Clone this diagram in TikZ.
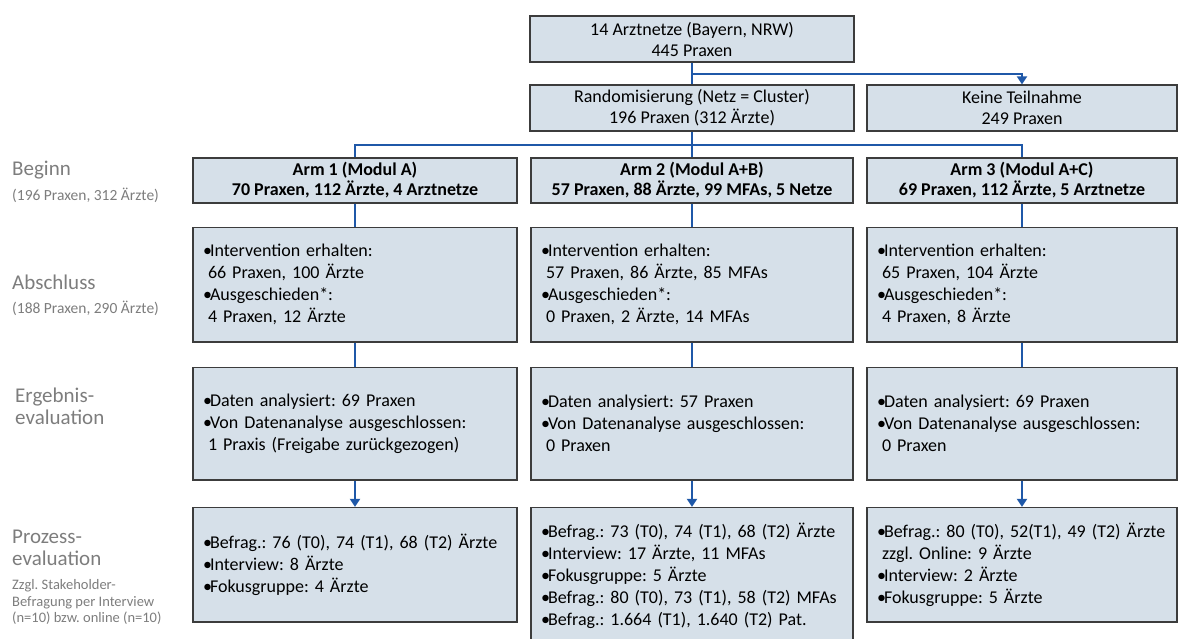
\documentclass[tikz,border=0pt]{standalone}
\usepackage{fontspec}
\setmainfont{Carlito}
\usepackage{xcolor}
\usepackage{tikz}
\usetikzlibrary{arrows.meta}
\definecolor{boxfill}{RGB}{214,224,233}
\definecolor{boxline}{RGB}{60,60,60}
\definecolor{linkblue}{RGB}{31,88,168}
\definecolor{labelgray}{RGB}{125,125,125}
\newcommand{\bl}{\makebox[7pt][l]{•}}
\newcommand{\cn}{\hspace*{5pt}}
\frenchspacing

\begin{document}
\begin{tikzpicture}[x=1pt,y=-1pt,
	box/.style={draw=boxline,fill=boxfill,line width=1.3pt,inner sep=0pt,align=center,font=\fontsize{18}{21}\selectfont},
	listbox/.style={box,align=left,inner xsep=10pt,inner ysep=0pt,font=\fontsize{18}{22}\selectfont},
	link/.style={draw=linkblue,line width=2.6pt},
	lab/.style={anchor=west,inner sep=0pt,align=left,text=labelgray,font=\fontsize{21}{22}\selectfont},
	sublab/.style={anchor=west,inner sep=0pt,align=left,text=labelgray,font=\fontsize{15.5}{16.5}\selectfont},
	>={Triangle[length=8pt,width=10pt]}]
	\useasboundingbox (0,0) rectangle (1178,638);
	\node[box,minimum width=324pt,minimum height=46pt] (top) at (692,39) {14 Arztnetze (Bayern, NRW)\\445 Praxen};
	\node[box,minimum width=324pt,minimum height=46pt] (rand) at (692,108) {Randomisierung (Netz = Cluster)\\196 Praxen (312 Ärzte)};
	\node[box,minimum width=310pt,minimum height=46pt] (keine) at (1022,108) {Keine Teilnahme\\249 Praxen};
	\node[box,minimum width=324pt,minimum height=45pt,font=\bfseries\fontsize{18}{20}\selectfont] (arm1) at (355,180.5) {Arm 1 (Modul A)\\70 Praxen, 112 Ärzte, 4 Arztnetze};
	\node[box,minimum width=322pt,minimum height=45pt,font=\bfseries\fontsize{18}{20}\selectfont] (arm2) at (692,180.5) {Arm 2 (Modul A+B)\\57 Praxen, 88 Ärzte, 99 MFAs, 5 Netze};
	\node[box,minimum width=310pt,minimum height=45pt,font=\bfseries\fontsize{18}{20}\selectfont] (arm3) at (1022,180.5) {Arm 3 (Modul A+C)\\69 Praxen, 112 Ärzte, 5 Arztnetze};
	\node[listbox,text width=304pt,minimum height=114.5pt] (abs1) at (355,284.75) {\bl Intervention erhalten:\\\cn 66 Praxen, 100 Ärzte\\\bl Ausgeschieden*:\\\cn 4 Praxen, 12 Ärzte};
	\node[listbox,text width=302pt,minimum height=114.5pt] (abs2) at (692,284.75) {\bl Intervention erhalten:\\\cn 57 Praxen, 86 Ärzte, 85 MFAs\\\bl Ausgeschieden*:\\\cn 0 Praxen, 2 Ärzte, 14 MFAs};
	\node[listbox,text width=290pt,minimum height=114.5pt] (abs3) at (1022,284.75) {\bl Intervention erhalten:\\\cn 65 Praxen, 104 Ärzte\\\bl Ausgeschieden*:\\\cn 4 Praxen, 8 Ärzte};
	\node[listbox,text width=304pt,minimum height=112.5pt] (erg1) at (355,423.75) {\bl Daten analysiert: 69 Praxen\\\bl Von Datenanalyse ausgeschlossen:\\\cn 1 Praxis (Freigabe zurückgezogen)\\[6pt]};
	\node[listbox,text width=302pt,minimum height=112.5pt] (erg2) at (692,423.75) {\bl Daten analysiert: 57 Praxen\\\bl Von Datenanalyse ausgeschlossen:\\\cn 0 Praxen\\[6pt]};
	\node[listbox,text width=290pt,minimum height=112.5pt] (erg3) at (1022,423.75) {\bl Daten analysiert: 69 Praxen\\\bl Von Datenanalyse ausgeschlossen:\\\cn 0 Praxen};
	\node[listbox,text width=304pt,minimum height=114.5pt] (proz1) at (355,564.75) {\bl Befrag.: 76 (T0), 74 (T1), 68 (T2) Ärzte\\\bl Interview: 8 Ärzte\\\bl Fokusgruppe: 4 Ärzte\\[6pt]};
	\node[listbox,text width=302pt,minimum height=137.5pt] (proz2) at (692,576.25) {\bl Befrag.: 73 (T0), 74 (T1), 68 (T2) Ärzte\\\bl Interview: 17 Ärzte, 11 MFAs\\\bl Fokusgruppe: 5 Ärzte\\\bl Befrag.: 80 (T0), 73 (T1), 58 (T2) MFAs\\\bl Befrag.: 1.664 (T1), 1.640 (T2) Pat.};
	\node[listbox,text width=296pt,inner xsep=7pt,minimum height=114.5pt] (proz3) at (1022,564.75) {\hspace*{3pt}\bl Befrag.: 80 (T0), 52(T1), 49 (T2) Ärzte\\\hspace*{3pt}\cn zzgl. Online: 9 Ärzte\\\hspace*{3pt}\bl Interview: 2 Ärzte\\\hspace*{3pt}\bl Fokusgruppe: 5 Ärzte};
	\coordinate (split) at (692,74);
	\coordinate (fork) at (692,145);
	\draw[link] (top.south) -- (rand.north);
	\draw[link,->] (split) -| (keine.north);
	\draw[link] (rand.south) -- (arm2.north);
	\draw[link] (arm1.north) |- (fork) -| (arm3.north);
	\foreach \i in {1,2,3} {
		\draw[link] (arm\i.south) -- (abs\i.north);
		\draw[link] (abs\i.south) -- (erg\i.north);
		\draw[link,->] (erg\i.south) -- (proz\i.north);
	}
	\node[lab] (beginn) at (12,170) {Beginn};
	\node[sublab] (beginnn) at (12,195) {(196 Praxen, 312 Ärzte)};
	\node[lab] (abschluss) at (12,282) {Abschluss};
	\node[sublab] (abschlussn) at (12,308) {(188 Praxen, 290 Ärzte)};
	\node[lab] (ergebnis) at (15,406.5) {Ergebnis-\\evaluation};
	\node[lab] (prozess) at (12,547.5) {Prozess-\\evaluation};
	\node[sublab,font=\fontsize{14.5}{16.5}\selectfont] (stake) at (12,602) {Zzgl. Stakeholder-\\Befragung per Interview\\(n=10) bzw. online (n=10)};
\end{tikzpicture}
\end{document}
